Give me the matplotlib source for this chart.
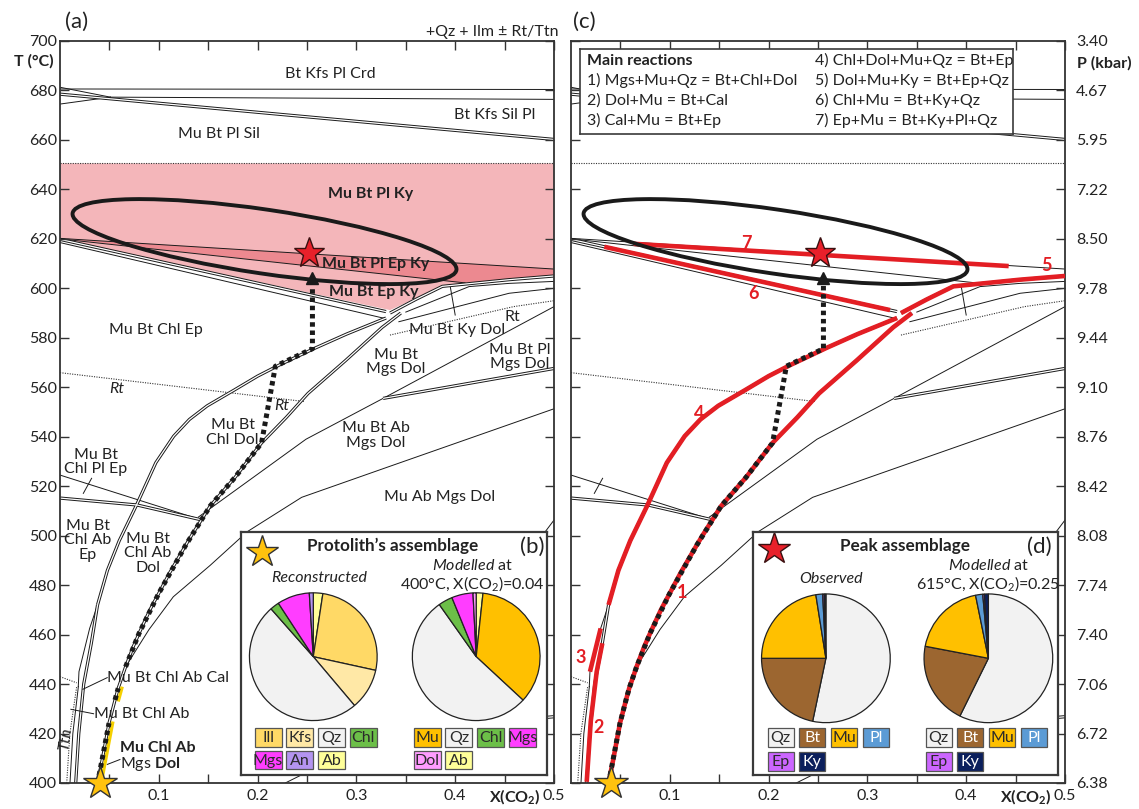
"""
T-X(CO2) pseudosection: protolith and peak assemblages
(a) stability fields and inferred path, (c) main reactions, (b)(d) modal pies
"""
import numpy as np
import matplotlib
matplotlib.use('Agg')
import matplotlib.pyplot as plt
from matplotlib.patches import Ellipse, Polygon, Rectangle
from matplotlib.transforms import ScaledTranslation, offset_copy
from matplotlib.ticker import FixedLocator, FixedFormatter

plt.rcParams['font.family'] = ['Lato', 'DejaVu Sans']
plt.rcParams['mathtext.fontset'] = 'custom'
plt.rcParams['mathtext.rm'] = 'Lato'
plt.rcParams['mathtext.it'] = 'Lato:italic'
plt.rcParams['mathtext.bf'] = 'Lato:bold'

FIG_W, FIG_H, DPI = 1139, 809, 100
FS = 11.5
RED = '#E31E24'
INK = '#1a1a1a'
PINK = '#F4B6BA'
PINK_DARK = '#EC8990'

# ---- axes
X_MAJOR = [0.1, 0.2, 0.3, 0.4, 0.5]
X_LABELS = ['0.1', '0.2', '0.3', '0.4', '0.5']
X_MINOR = [0.05, 0.15, 0.25, 0.35, 0.45]
T_TICKS = list(range(400, 701, 20))
P_LABELS = ['6.38', '6.72', '7.06', '7.40', '7.74', '8.08', '8.42', '8.76',
            '9.10', '9.44', '9.78', '8.50', '7.22', '5.95', '4.67', '3.40']

# ---- phase boundaries (x = X(CO2), t = T in °C)
crd_x = [0.0, 0.5];                 crd_t = [680.6, 680.4]
kfs1_x = [0.0, 0.051];              kfs1_t = [681.3, 677.3]
kfs2_x = [0.0, 0.051];              kfs2_t = [674.5, 677.3]
kfs3_x = [0.051, 0.5];              kfs3_t = [677.3, 676.4]
sil_x = [0.0, 0.5];                 sil_t = [678.5, 660.2]
ky_sil_x = [0.0, 0.5];              ky_sil_t = [650.5, 650.5]
band_up_x = [0.0, 0.5];             band_up_t = [620.2, 607.8]
band_lo_x = [0.0, 0.41];            band_lo_t = [620.0, 602.2]
rxn6_x = [0.0, 0.33];               rxn6_t = [619.8, 590.6]
rxn6b_x = [0.0, 0.329];             rxn6b_t = [618.5, 587.8]
rxn5_x = [0.334, 0.36, 0.387, 0.4545, 0.5]
rxn5_t = [590.0, 595.5, 600.8, 603.5, 605.0]
kydol_a_x = [0.35, 0.414, 0.4545, 0.5];   kydol_a_t = [590.4, 600.7, 602.0, 602.8]
kydol_b_x = [0.343, 0.4545, 0.5];         kydol_b_t = [586.5, 598.0, 600.0]
rxn1_x = [0.038, 0.0395, 0.043, 0.0496, 0.0557, 0.0589, 0.0664, 0.074, 0.080,
          0.091, 0.0997, 0.111, 0.127, 0.133, 0.152, 0.177, 0.204, 0.229,
          0.251, 0.289, 0.326, 0.345]
rxn1_t = [400, 403, 410, 424.2, 433.6, 438.3, 447, 455, 460.5,
          470, 476.5, 485, 496, 500, 512, 523.5, 537.5, 547.8,
          557.5, 570.8, 584.2, 590]
rxn4_x = [0.038, 0.048, 0.06, 0.077, 0.097, 0.115, 0.131, 0.149, 0.176,
          0.2, 0.222, 0.258, 0.29, 0.33]
rxn4_t = [472, 486, 498, 512, 529.5, 540.2, 547, 552.5, 558.8,
          564.5, 569, 575.8, 581.5, 588]
rxn2_x = [0.0159, 0.019, 0.024, 0.0317, 0.038];  rxn2_t = [400, 420, 440, 456.5, 472]
rxn3_x = [0.0185, 0.0192, 0.030, 0.038];         rxn3_t = [439, 445, 462.5, 472]
left_x = [0.0101, 0.013, 0.0186];                left_t = [400, 420, 439]
ttn_x = [0.0068, 0.010, 0.0169];                 ttn_t = [400, 420, 439]
ttn2_x = [0.0, 0.0169];                          ttn2_t = [443, 440.5]
chlpl_a_x = [0.0, 0.142];                        chlpl_a_t = [524.5, 506.5]
chlpl_b_x = [0.0, 0.078, 0.142];                 chlpl_b_t = [515.2, 512.4, 506.5]
chlpl_c_x = [0.0236, 0.032];                     chlpl_c_t = [517.1, 523.2]
mgsab_x = [0.0664, 0.09, 0.1147, 0.152, 0.1895, 0.2446, 0.33, 0.5]
mgsab_t = [447, 462, 475.3, 488, 501.6, 515.5, 527.5, 551.3]
mgsdol_x = [0.14, 0.249, 0.327, 0.5];            mgsdol_t = [507.5, 539, 555.5, 592.6]
plmgs_x = [0.327, 0.5];                          plmgs_t = [555.5, 567.6]
low_x = [0.228, 0.2446, 0.3, 0.4, 0.45, 0.49, 0.5]
low_t = [400, 403.3, 418, 450, 472, 501, 506.3]
right_x = [0.42, 0.5];                           right_t = [424, 426.8]
kytick_x = [0.395, 0.4];                         kytick_t = [600.7, 589.2]
rt_left_x = [0.0, 0.248];                        rt_left_t = [565.9, 554.2]
rt_right_x = [0.334, 0.459, 0.5];                rt_right_t = [581.1, 592.6, 595.0]

BOUNDARIES = [
    (crd_x, crd_t, 'single'), (kfs1_x, kfs1_t, 'single'), (kfs2_x, kfs2_t, 'single'),
    (kfs3_x, kfs3_t, 'single'), (sil_x, sil_t, 'double'), (ky_sil_x, ky_sil_t, 'dotted'),
    (band_up_x, band_up_t, 'single'), (band_lo_x, band_lo_t, 'single'),
    (rxn6_x, rxn6_t, 'double'), (rxn6b_x, rxn6b_t, 'single'), (rxn5_x, rxn5_t, 'double'),
    (kydol_a_x, kydol_a_t, 'single'), (kydol_b_x, kydol_b_t, 'single'),
    (rxn1_x, rxn1_t, 'double'), (rxn4_x, rxn4_t, 'double'), (rxn2_x, rxn2_t, 'double'),
    (rxn3_x, rxn3_t, 'single'), (left_x, left_t, 'single'), (ttn_x, ttn_t, 'dotted'),
    (ttn2_x, ttn2_t, 'dotted'), (chlpl_a_x, chlpl_a_t, 'single'),
    (chlpl_b_x, chlpl_b_t, 'double'), (chlpl_c_x, chlpl_c_t, 'single'),
    (mgsab_x, mgsab_t, 'single'), (mgsdol_x, mgsdol_t, 'single'),
    (plmgs_x, plmgs_t, 'double'), (low_x, low_t, 'single'), (right_x, right_t, 'double'),
    (kytick_x, kytick_t, 'single'), (rt_left_x, rt_left_t, 'dotted'),
    (rt_right_x, rt_right_t, 'dotted'),
]

# ---- shaded peak fields in (a)
ky_field_x = [0.0, 0.5, 0.5, 0.4545, 0.387, 0.334, 0.0]
ky_field_t = [650.5, 650.5, 605.0, 603.5, 600.8, 591.2, 619.8]
ep_band_x = [0.0, 0.5, 0.5, 0.4545, 0.41]
ep_band_t = [620.2, 607.8, 605.0, 603.5, 602.2]

# ---- reactions highlighted in (c)
red2_x = [0.0159, 0.02, 0.026, 0.0317];  red2_t = [400.5, 425, 445, 456.5]
red3_x = [0.0192, 0.030];                red3_t = [445, 462.5]
red6_x = [0.0337, 0.3229];               red6_t = [616.8, 591.2]
red7_x = [0.0636, 0.443];                red7_t = [618.0, 609.0]
RED_LINES = [(rxn1_x, rxn1_t), (red2_x, red2_t), (red3_x, red3_t), (rxn4_x, rxn4_t),
             (rxn5_x, rxn5_t), (red6_x, red6_t), (red7_x, red7_t)]
red_num = ['1', '2', '3', '4', '5', '6', '7']
red_num_x = [0.112, 0.028, 0.0094, 0.130, 0.4815, 0.185, 0.1776]
red_num_t = [477, 422.4, 450.7, 549.5, 609.3, 597.8, 618]

# ---- inferred P-T-X path (follows reaction 1, then 4)
path_x = [0.0395, 0.0496, 0.0557, 0.0589, 0.0664, 0.080, 0.0997, 0.127, 0.152,
          0.177, 0.204, 0.218, 0.2555, 0.2555]
path_t = [403, 424.2, 433.6, 438.3, 447, 460.5, 476.5, 496, 512,
          523.5, 537.5, 568.5, 575.6, 601]
arrow_x, arrow_t = 0.2555, 604.3
protolith_x, protolith_t = 0.040, 400
peak_x, peak_t = 0.252, 614.2
# uncertainty ellipse: centre (data), size (inches), tilt (deg)
ELL_X, ELL_T, ELL_W, ELL_H, ELL_ANG = 0.207, 618.9, 3.88, 0.64, -8.4

# ---- field labels in (a)
fld_text = ['Bt Kfs Pl Crd', 'Bt Kfs Sil Pl', 'Mu Bt Pl Sil', 'Mu Bt Chl Ep',
            'Mu Bt Ky Dol', 'Mu Bt\nMgs Dol', 'Mu Bt Pl\nMgs Dol', 'Mu Bt\nChl Dol',
            'Mu Bt Ab\nMgs Dol', 'Mu Ab Mgs Dol', 'Mu Bt\nChl Pl Ep',
            'Mu Bt\nChl Ab\nEp', 'Mu Bt\nChl Ab\nDol', 'Rt']
fld_x = [0.274, 0.44, 0.161, 0.0975, 0.402, 0.34, 0.465, 0.1747,
         0.32, 0.3845, 0.036, 0.028, 0.089, 0.458]
fld_t = [686.7, 670, 662.6, 583, 583, 570.2, 572.2, 541.8,
         540.5, 515.5, 529.7, 498.2, 492.9, 588.4]
bold_text = ['Mu Bt Pl Ky', 'Mu Bt Pl Ep Ky', 'Mu Bt Ep Ky', 'Mu Chl Ab']
bold_x = [0.3146, 0.265, 0.272, 0.0607]
bold_t = [638, 610, 598.5, 414.3]
bold_ha = ['center', 'left', 'left', 'left']
small_text = ['Mu Bt Chl Ab Cal', 'Mu Bt Chl Ab', r'Mgs $\mathbf{Dol}$']
small_x = [0.0478, 0.034, 0.0607]
small_t = [442.4, 428, 407.8]
rt_x = [0.057, 0.2244];   rt_t = [559.4, 552.6]
leader_x = [[0.0232, 0.0478], [0.011, 0.034], [0.0478, 0.0607]]
leader_t = [[437.9, 442.6], [429.8, 428.0], [407.5, 409.5]]

# ---- modal proportions (vol%), clockwise from 12 o'clock
recon_names = ['Ab', 'Ill', 'Kfs', 'Qz', 'Chl', 'Mgs', 'An']
recon_vals = [2.4, 26.0, 10.4, 49.6, 2.3, 8.2, 1.0]
model400_names = ['Ab', 'Mu', 'Qz', 'Chl', 'Mgs', 'Dol']
model400_vals = [1.7, 35.2, 53.3, 3.6, 5.4, 0.8]
observed_names = ['Qz', 'Bt', 'Mu', 'Pl', 'Ep', 'Ky']
observed_vals = [53.3, 21.7, 22.5, 1.7, 0.4, 0.4]
model615_names = ['Qz', 'Bt', 'Mu', 'Pl', 'Ep', 'Ky']
model615_vals = [57.3, 20.7, 18.8, 1.8, 0.4, 1.0]

legend_b1 = ['Ill', 'Kfs', 'Qz', 'Chl', 'Mgs', 'An', 'Ab']
legend_b2 = ['Mu', 'Qz', 'Chl', 'Mgs', 'Dol', 'Ab']
legend_d = ['Qz', 'Bt', 'Mu', 'Pl', 'Ep', 'Ky']

MINERAL_COLORS = {
    'Ill': '#FFD966', 'Kfs': '#FFE8A6', 'Qz': '#F2F2F2', 'Chl': '#6CBF48',
    'Mgs': '#FF3DFF', 'An': '#B494F0', 'Ab': '#FFFF99', 'Mu': '#FFC000',
    'Dol': '#FF9CFF', 'Bt': '#9C6630', 'Pl': '#5B9BD5', 'Ep': '#CC66FF',
    'Ky': '#0B1F5C',
}
LIGHT_TEXT = {'Bt', 'Pl', 'Ky'}

REACTIONS_LEFT = ['1) Mgs+Mu+Qz = Bt+Chl+Dol', '2) Dol+Mu = Bt+Cal', '3) Cal+Mu = Bt+Ep']
REACTIONS_RIGHT = ['4) Chl+Dol+Mu+Qz = Bt+Ep', '5) Dol+Mu+Ky = Bt+Ep+Qz',
                   '6) Chl+Mu = Bt+Ky+Qz', '7) Ep+Mu = Bt+Ky+Pl+Qz']


def px_rect(left, top, right, bottom):
    """ピクセル枠 (上端原点) を figure 座標の rect に変換"""
    return [left / FIG_W, 1 - bottom / FIG_H, (right - left) / FIG_W, (bottom - top) / FIG_H]


def fig_xy(x, y):
    return x / FIG_W, 1 - y / FIG_H


def setup_frame(ax):
    ax.set_xlim(0, 0.5)
    ax.set_ylim(400, 700)
    ax.xaxis.set_major_locator(FixedLocator(X_MAJOR))
    ax.xaxis.set_major_formatter(FixedFormatter(X_LABELS))
    ax.xaxis.set_minor_locator(FixedLocator(X_MINOR))
    ax.yaxis.set_major_locator(FixedLocator(T_TICKS))
    ax.tick_params(which='both', direction='in', top=True, right=True,
                   length=6.5, width=1.0, color='#333333')
    ax.tick_params(axis='x', labelsize=FS, pad=4, labelcolor='#222222')
    ax.tick_params(axis='y', labelsize=FS, labelcolor='#222222')
    for s in ax.spines.values():
        s.set_linewidth(1.3)
        s.set_color('#333333')
    ax.text(0.46, -0.0185, r'X(CO$_\mathbf{2}$)', transform=ax.get_xaxis_transform(),
            ha='center', va='center', fontsize=FS, fontweight='bold', color='#222222')


def draw_boundaries(ax):
    for x, t, style in BOUNDARIES:
        if style == 'double':
            ax.plot(x, t, color=INK, lw=2.3, solid_capstyle='butt', zorder=1)
            ax.plot(x, t, color='white', lw=0.9, solid_capstyle='butt', zorder=1.1)
        elif style == 'dotted':
            ax.plot(x, t, color='#333333', lw=0.8, linestyle=(0, (1, 1.2)), zorder=1)
        else:
            ax.plot(x, t, color=INK, lw=0.7, zorder=1)


def draw_peak_markers(ax):
    tr = fig.dpi_scale_trans + ScaledTranslation(ELL_X, ELL_T, ax.transData)
    ax.add_patch(Ellipse((0, 0), ELL_W, ELL_H, angle=ELL_ANG, transform=tr,
                         fill=False, ec=INK, lw=2.8, zorder=4))
    ax.plot(arrow_x, arrow_t, marker='^', ms=9, color=INK, zorder=5)
    ax.plot(peak_x, peak_t, marker='*', ms=23, mfc='#E8202A', mec='#3a1010',
            mew=1.0, zorder=6, clip_on=False)
    ax.plot(protolith_x, protolith_t, marker='*', ms=25, mfc='#FFC20E', mec='#333333',
            mew=1.0, zorder=6, clip_on=False)


def draw_path(ax, pieces):
    for i0, i1 in pieces:
        ax.plot(path_x[i0:i1], path_t[i0:i1], color=INK, lw=3.6,
                linestyle=(0, (0.9, 0.75)), dash_capstyle='butt', zorder=4.5)


def inset_axes(left, top, right, bottom, lw=1.6):
    ax = fig.add_axes(px_rect(left, top, right, bottom))
    ax.set_xlim(left, right)
    ax.set_ylim(bottom, top)
    ax.set_xticks([])
    ax.set_yticks([])
    for s in ax.spines.values():
        s.set_linewidth(lw)
        s.set_color('#3a3a3a')
    return ax


def draw_swatches(ax, names, x0, y0, w, h, dx, dy):
    for i, name in enumerate(names):
        x = x0 + (i % 4) * dx
        y = y0 + (i // 4) * dy
        ax.add_patch(Rectangle((x, y), w, h, fc=MINERAL_COLORS[name], ec='#555555', lw=0.9))
        ax.text(x + w / 2, y + h / 2 + 0.5, name, ha='center', va='center', fontsize=FS,
                color='white' if name in LIGHT_TEXT else '#2a2a2a')


def draw_pie(cx, cy, r, values, names):
    ax = fig.add_axes(px_rect(cx - r, cy - r, cx + r, cy + r))
    ax.pie(values, colors=[MINERAL_COLORS[n] for n in names], startangle=90,
           counterclock=False, wedgeprops=dict(edgecolor='#222222', linewidth=0.9))
    ax.set_xlim(-1.01, 1.01)
    ax.set_ylim(-1.01, 1.01)
    ax.set_aspect('equal')
    ax.axis('off')


fig = plt.figure(figsize=(FIG_W / DPI, FIG_H / DPI), dpi=DPI)
ax_a = fig.add_axes(px_rect(60, 41, 554, 783))
ax_c = fig.add_axes(px_rect(571, 41, 1065, 783))

# ---------------- (a) pseudosection with fields
setup_frame(ax_a)
ax_a.yaxis.set_major_formatter(FixedFormatter([str(t) for t in T_TICKS]))
ax_a.tick_params(axis='y', pad=2, labelleft=True, labelright=False)
ax_a.add_patch(Polygon(np.column_stack([ky_field_x, ky_field_t]), closed=True,
                       fc=PINK, ec='none', zorder=0.5))
ax_a.add_patch(Polygon(np.column_stack([ep_band_x, ep_band_t]), closed=True,
                       fc=PINK_DARK, ec='none', zorder=0.6))
draw_boundaries(ax_a)

for s, x, t in zip(fld_text, fld_x, fld_t):
    ax_a.text(x, t, s, ha='center', va='center', fontsize=FS, linespacing=1.05,
              color='#222222', zorder=3)
for s, x, t, ha in zip(bold_text, bold_x, bold_t, bold_ha):
    ax_a.text(x, t, s, ha=ha, va='center', fontsize=FS, fontweight='bold',
              color='#222222', zorder=3)
for s, x, t in zip(small_text, small_x, small_t):
    ax_a.text(x, t, s, ha='left', va='center', fontsize=FS, color='#222222', zorder=3)
for x, t in zip(rt_x, rt_t):
    ax_a.text(x, t, 'Rt', ha='center', va='center', fontsize=FS, style='italic',
              color='#222222', zorder=3)
ax_a.text(0.0055, 417.7, 'Ttn', ha='center', va='center', fontsize=FS, style='italic',
          rotation=82, color='#222222', zorder=3)
for x, t in zip(leader_x, leader_t):
    ax_a.plot(x, t, color=INK, lw=0.7, zorder=2)

# narrow Mu Chl Ab Mgs Dol strip beside the lowest path segments
yellow_tr = offset_copy(ax_a.transData, fig=fig, x=2.6, y=0, units='points')
ax_a.plot(path_x[0:2], path_t[0:2], color='#F5D000', lw=2.4, transform=yellow_tr, zorder=4)
ax_a.plot(path_x[2:4], path_t[2:4], color='#F5D000', lw=2.4, transform=yellow_tr, zorder=4)
draw_path(ax_a, [(0, 2), (2, 4), (4, len(path_x))])
draw_peak_markers(ax_a)

# ---------------- (c) main reactions
setup_frame(ax_c)
ax_c.yaxis.set_major_formatter(FixedFormatter(P_LABELS))
ax_c.tick_params(axis='y', pad=8, labelleft=False, labelright=True)
draw_boundaries(ax_c)
for x, t in RED_LINES:
    ax_c.plot(x, t, color=RED, lw=3.3, solid_capstyle='butt', zorder=3)
for s, x, t in zip(red_num, red_num_x, red_num_t):
    ax_c.text(x, t, s, ha='center', va='center', fontsize=13, fontweight='bold',
              color=RED, zorder=3)
draw_path(ax_c, [(0, len(path_x))])
draw_peak_markers(ax_c)

# ---------------- headers
fig.text(*fig_xy(77, 21.7), '(a)', fontsize=16, ha='center', va='center', color='#222222')
fig.text(*fig_xy(584, 21.7), '(c)', fontsize=16, ha='center', va='center', color='#222222')
fig.text(*fig_xy(558, 31.7), '+Qz + Ilm ± Rt/Ttn', fontsize=FS, ha='right', va='center',
         color='#222222')
fig.text(*fig_xy(14.5, 61.7), 'T (°C)', fontsize=FS, fontweight='bold', ha='left',
         va='center', color='#222222')
fig.text(*fig_xy(1077, 63.3), 'P (kbar)', fontsize=FS, fontweight='bold', ha='left',
         va='center', color='#222222')

# reaction list
ax_r = inset_axes(580.3, 49.3, 1013.5, 134.3, lw=1.2)
ax_r.text(586.6, 60.7, 'Main reactions', fontsize=FS, fontweight='bold', va='center',
          color='#222222')
for i, s in enumerate(REACTIONS_LEFT):
    ax_r.text(586.6, 80.7 + 20 * i, s, fontsize=FS, va='center', color='#222222')
for i, s in enumerate(REACTIONS_RIGHT):
    ax_r.text(814.8, 60.7 + 20 * i, s, fontsize=FS, va='center', color='#222222')

# ---------------- (b) protolith assemblage
ax_b = inset_axes(241, 532, 547, 775)
ax_b.plot(261.7, 551.7, marker='*', ms=24, mfc='#FFC20E', mec='#333333', mew=1.0)
ax_b.text(392.6, 546, 'Protolith’s assemblage', fontsize=12.3, fontweight='bold',
          ha='center', va='center', color='#222222')
ax_b.text(532.5, 546.7, '(b)', fontsize=16, ha='center', va='center', color='#222222')
ax_b.text(319.2, 578.3, 'Reconstructed', fontsize=FS, style='italic', ha='center',
          va='center', color='#222222')
ax_b.text(472.6, 565, r'$\mathit{Modelled}$ at', fontsize=FS, ha='center', va='center',
          color='#222222')
ax_b.text(472.6, 583.3, r'400°C, X(CO$_2$)=0.04', fontsize=FS, ha='center', va='center',
          color='#222222', clip_on=False)
draw_swatches(ax_b, legend_b1, 254.5, 728.3, 27, 18.5, 31.7, 22.5)
draw_swatches(ax_b, legend_b2, 413.7, 728.3, 27, 18.5, 31.7, 22.5)
draw_pie(313.3, 656.7, 64.5, recon_vals, recon_names)
draw_pie(476.2, 656.7, 64.5, model400_vals, model400_names)

# ---------------- (d) peak assemblage
ax_d = inset_axes(753, 532, 1058, 775)
ax_d.plot(774.2, 549.3, marker='*', ms=24, mfc='#E8202A', mec='#3a1010', mew=1.0)
ax_d.text(905.3, 546, 'Peak assemblage', fontsize=12.3, fontweight='bold', ha='center',
          va='center', color='#222222')
ax_d.text(1039.3, 546.7, '(d)', fontsize=16, ha='center', va='center', color='#222222')
ax_d.text(831.4, 579.3, 'Observed', fontsize=FS, style='italic', ha='center', va='center',
          color='#222222')
ax_d.text(988.4, 566, r'$\mathit{Modelled}$ at', fontsize=FS, ha='center', va='center',
          color='#222222')
ax_d.text(988.4, 584, r'615°C, X(CO$_2$)=0.25', fontsize=FS, ha='center', va='center',
          color='#222222', clip_on=False)
draw_swatches(ax_d, legend_d, 767.5, 728.3, 26, 19, 31.8, 24)
draw_swatches(ax_d, legend_d, 925.6, 728.3, 26, 19, 31.8, 24)
draw_pie(825.9, 658.3, 65, observed_vals, observed_names)
draw_pie(988.4, 658.3, 65, model615_vals, model615_names)

fig.savefig('out.png', dpi=DPI)
plt.close(fig)
